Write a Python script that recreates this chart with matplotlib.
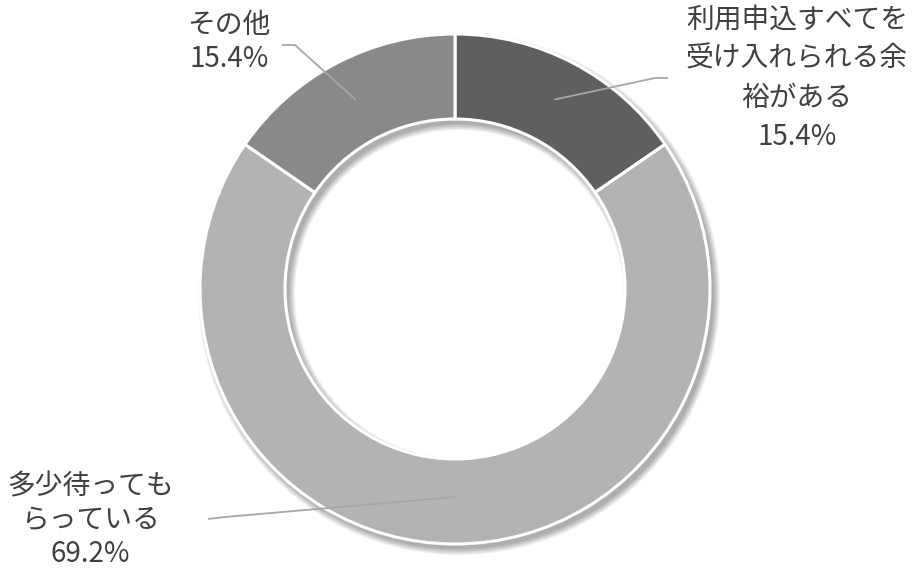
import matplotlib
matplotlib.use("Agg")
import matplotlib.pyplot as plt
import numpy as np
from matplotlib.patches import Wedge

plt.rcParams["font.family"] = ["Noto Sans CJK JP", "DejaVu Sans"]

# answer shares (%)
categories = [
    "利用申込すべてを\n受け入れられる余\n裕がある",
    "多少待っても\nらっている",
    "その他",
]
shares = [15.4, 69.2, 15.4]
colors = ["#5f5f5f", "#b3b3b3", "#898989"]

W, H = 917, 569
cx, cy = 455, H - 289
r_out, r_in = 255, 170

fig = plt.figure(figsize=(W / 100, H / 100), dpi=100)
ax = fig.add_axes([0, 0, 1, 1])
ax.set_xlim(0, W)
ax.set_ylim(0, H)
ax.set_aspect("equal")
ax.axis("off")

# soft drop shadow of the ring, cast down-right
for k in range(7):
    ax.add_patch(Wedge((cx + 4, cy - 5), r_out + k, 0, 360,
                       width=(r_out - r_in) + 2 * k,
                       facecolor="black", edgecolor="none", alpha=0.05))

wedges, _ = ax.pie(shares, colors=colors, startangle=90, counterclock=False,
                   radius=r_out, center=(cx, cy),
                   wedgeprops=dict(width=r_out - r_in, edgecolor="white",
                                   linewidth=2.2))
ax.set_xlim(0, W)
ax.set_ylim(0, H)

# label text centres and the elbow of each leader line (image px)
label_xy = [(797, 78), (90, 520), (229, 42)]
elbow_xy = [[(655, 78), (668, 78)], [(225, 517), (208, 519)], [(295, 45), (282, 45)]]
anchor_r = [214, 208, 214]
linespacing = [1.40, 1.17, 1.21]

for w, name, val, (tx, ty), elbow, ar, ls in zip(
        wedges, categories, shares, label_xy, elbow_xy, anchor_r, linespacing):
    mid = np.deg2rad((w.theta1 + w.theta2) / 2)
    sx, sy = cx + ar * np.cos(mid), cy + ar * np.sin(mid)
    xs = [sx] + [p[0] for p in elbow]
    ys = [sy] + [H - p[1] for p in elbow]
    ax.plot(xs, ys, color="#a6a6a6", linewidth=1.3, solid_capstyle="butt")
    ax.text(tx, H - ty, f"{name}\n{val:.1f}%", ha="center", va="center",
            fontsize=20, color="#404040", linespacing=ls)

fig.savefig("out.png", dpi=100)
